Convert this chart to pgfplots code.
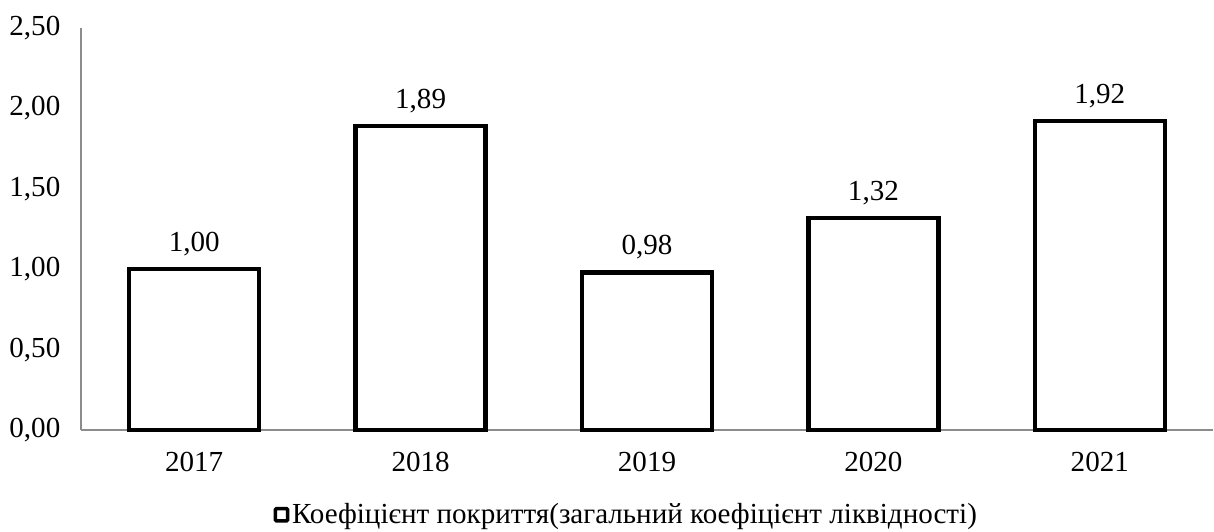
\documentclass[border=0pt]{standalone}
\usepackage{fontspec}
\setmainfont{Liberation Serif}
\usepackage{pgfplots}
\pgfplotsset{compat=1.18}
\newcommand{\ff}{\fontsize{21.8pt}{25pt}\selectfont}
\begin{document}
\begin{tikzpicture}
\useasboundingbox (-60.75pt,-76.5pt) rectangle (849.75pt,322.5pt);
\begin{axis}[
  at={(0,0)}, anchor=south west,
  scale only axis,
  width=849pt, height=301.5pt,
  ybar, bar width=97.5pt, bar shift=0pt,
  xmin=-0.5, xmax=4.5,
  ymin=0, ymax=2.5,
  xtick={0,1,2,3,4},
  xticklabels={2017,2018,2019,2020,2021},
  ytick={0,0.5,1,1.5,2,2.5},
  axis x line=bottom, axis y line=left,
  axis line style={draw=black!45, line width=0.8pt, -},
  major tick length=0pt,
  /pgf/number format/assume math mode=true,
  yticklabel style={font=\ff, xshift=-12pt, /pgf/number format/.cd, fixed, fixed zerofill, precision=2, use comma},
  xticklabel style={font=\ff, yshift=-13pt},
  nodes near coords,
  nodes near coords style={font=\ff, anchor=south, yshift=5pt, /pgf/number format/.cd, fixed, fixed zerofill, precision=2, use comma},
  legend style={at={(0.482,-0.211)}, anchor=center, draw=none, font=\ff, inner sep=0pt},
  legend image code/.code={\draw[line width=2.6pt, fill=white, rounded corners=0.8pt] (0pt,-4.6pt) rectangle (9.2pt,4.6pt);},
  clip=false,
]
\addplot[draw=black, line width=3.2pt, fill=white] coordinates {(0,1.00) (1,1.89) (2,0.98) (3,1.32) (4,1.92)};
\addlegendentry{Коефіцієнт покриття(загальний коефіцієнт ліквідності)}
\end{axis}
\end{tikzpicture}
\end{document}
